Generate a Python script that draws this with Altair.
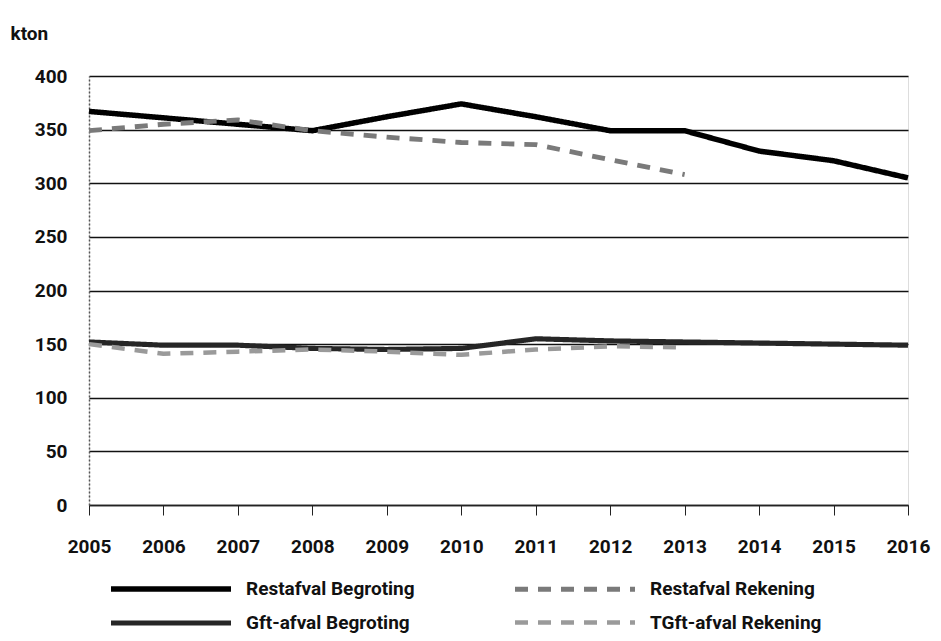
import altair as alt
import pandas as pd

years = list(range(2005, 2017))
series_names = ["Restafval Begroting", "Gft-afval Begroting", "Restafval Rekening", "TGft-afval Rekening"]

restafval_begroting = [367, 361, 355, 349, 362, 374, 362, 349, 349, 330, 321, 305]
gft_begroting = [152, 149, 149, 146, 145, 146, 155, 153, 152, 151, 150, 149]
restafval_rekening = [349, 355, 359, 349, 343, 338, 336, 322, 308]
gft_rekening = [150, 141, 143, 145, 143, 140, 145, 148, 147]

series_colors = ["#000000", "#262626", "#7a7a7a", "#9a9a9a"]
series_dash = [[1, 0], [1, 0], [13, 10], [13, 10]]
series_width = [5.5, 4.5, 5, 4.5]

rows = []
for name, vals in zip(series_names, [restafval_begroting, gft_begroting, restafval_rekening, gft_rekening]):
    for y, v in zip(years, vals):
        rows.append({"jaar": y, "kton": v, "reeks": name})
df = pd.DataFrame(rows)

FONT = "Roboto"
FS = 19

chart = alt.Chart(df).mark_line(strokeJoin="round").encode(
    x=alt.X("jaar:Q",
            scale=alt.Scale(domain=[2005, 2016], nice=False, zero=False),
            axis=alt.Axis(values=years, format="d", title=None, grid=False,
                          labelFontSize=FS, labelFontWeight="bold", labelFont=FONT,
                          labelColor="#111", labelPadding=22, tickSize=10,
                          tickColor="#222", domainColor="#222", domainWidth=1.5,
                          labelFlush=False)),
    y=alt.Y("kton:Q",
            scale=alt.Scale(domain=[0, 400], nice=False),
            axis=alt.Axis(values=list(range(0, 401, 50)), title="kton",
                          titleAngle=0, titleAlign="left", titleBaseline="middle",
                          titleX=-79, titleY=-43, titleFontSize=FS, titleFont=FONT,
                          titleFontWeight="bold", titleColor="#111",
                          labelFontSize=FS, labelFontWeight="bold", labelFont=FONT,
                          labelColor="#111", labelPadding=22, ticks=False,
                          domainColor="#555", domainWidth=1.5, domainDash=[2, 2],
                          gridColor="#111", gridWidth=1.3)),
    color=alt.Color("reeks:N",
                    scale=alt.Scale(domain=series_names, range=series_colors),
                    legend=alt.Legend(title=None, orient="none", legendX=69, legendY=500,
                                      columns=2, columnPadding=90, rowPadding=10,
                                      symbolType="M-6,0H6", symbolSize=400,
                                      symbolStrokeWidth=5, labelFontSize=FS,
                                      labelFont=FONT, labelFontWeight="bold",
                                      labelColor="#111", labelOffset=62,
                                      labelLimit=300)),
    strokeDash=alt.StrokeDash("reeks:N",
                              scale=alt.Scale(domain=series_names, range=series_dash),
                              legend=None),
    strokeWidth=alt.StrokeWidth("reeks:N",
                                scale=alt.Scale(domain=series_names, range=series_width),
                                legend=None),
).properties(
    width=819, height=429,
    autosize=alt.AutoSizeParams(type="none"),
    padding={"left": 81, "top": 68, "right": 25, "bottom": 134},
).configure_view(
    stroke="#888", strokeWidth=1, strokeDash=[2, 2]
).configure(background="white")

chart.save("out.html", embed_options={"renderer": "svg", "actions": False})
